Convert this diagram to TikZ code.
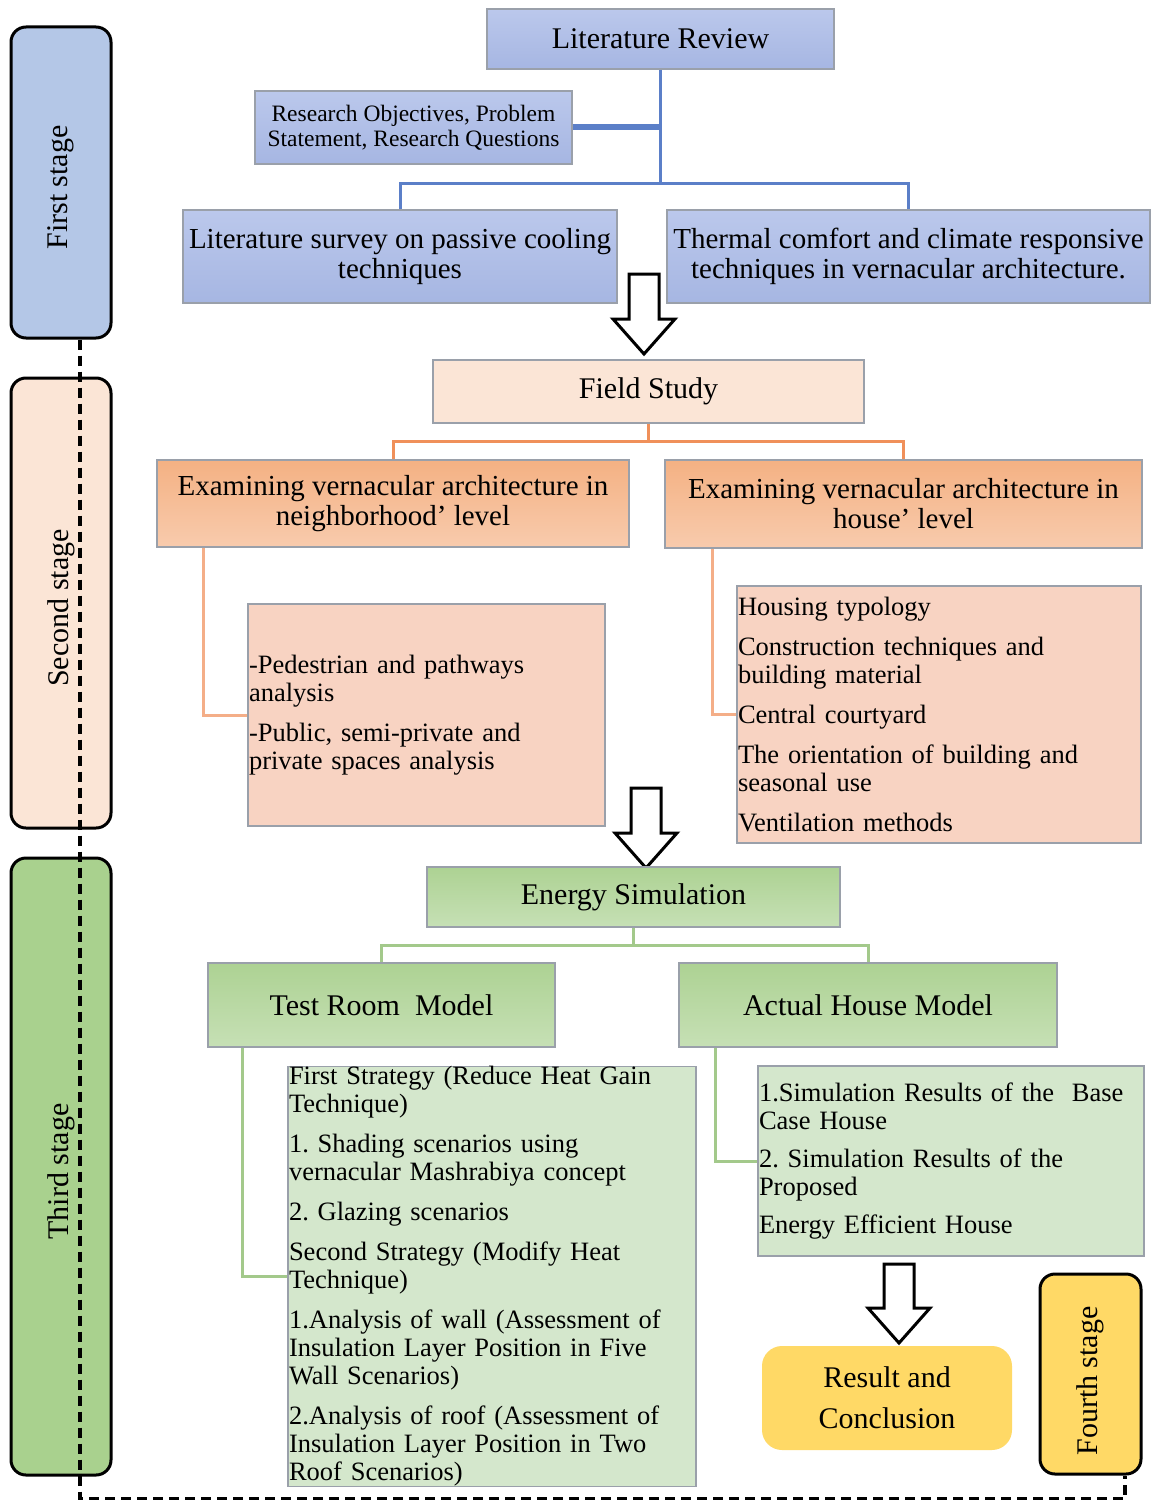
\documentclass[tikz,border=0pt]{standalone}
\usepackage{fontspec}
\setmainfont{Liberation Serif}
\usepackage{tikz}
\usetikzlibrary{%
  calc
}

\definecolor{blueTop}{HTML}{BBC8EC}
\definecolor{blueBot}{HTML}{A6B6E2}
\definecolor{stageBlue}{HTML}{B4C7E7}
\definecolor{peach}{HTML}{FBE5D6}
\definecolor{salmonTop}{HTML}{F4B183}
\definecolor{salmonBot}{HTML}{F8CBAD}
\definecolor{salmonLight}{HTML}{F8D3C2}
\definecolor{greenTop}{HTML}{ADD293}
\definecolor{greenBot}{HTML}{C6E0B5}
\definecolor{greenLight}{HTML}{D4E7CC}
\definecolor{stageGreen}{HTML}{A9D18E}
\definecolor{gold}{HTML}{FFD966}
\definecolor{lineBlue}{HTML}{5B7FC8}
\definecolor{lineOrange}{HTML}{F0905A}
\definecolor{lineSalmon}{HTML}{F4AE88}
\definecolor{lineGreen}{HTML}{A3C98B}
\definecolor{edgeGray}{HTML}{9AA0AA}

\newcommand{\headfont}{\fontsize{30}{30}\selectfont}
\newcommand{\twofont}{\fontsize{29}{30}\selectfont}
\newcommand{\smallfont}{\fontsize{23.5}{25}\selectfont}
\newcommand{\listfont}{\fontsize{26.5}{28}\selectfont}

% hollow block arrow: x, top y, tip y
\newcommand{\hollowarrow}[3]{%
  \draw[line width=3pt, fill=white, line join=miter]
    (#1-15,#2) -- (#1+15,#2) -- (#1+15,#3-35) -- (#1+31,#3-35)
    -- (#1,#3) -- (#1-31,#3-35) -- (#1-15,#3-35) -- cycle;}

\begin{document}
\begin{tikzpicture}[x=1pt, y=-1pt,
    box/.style={draw=edgeGray, line width=1.5pt, inner sep=0pt, align=center},
    bluebox/.style={box, top color=blueTop, bottom color=blueBot},
    salmonbox/.style={box, top color=salmonTop, bottom color=salmonBot},
    greenbox/.style={box, top color=greenTop, bottom color=greenBot},
    listbox/.style={box, align=left, inner xsep=1pt, font=\listfont},
    stagebox/.style={draw=black, line width=3pt, rounded corners=15pt, minimum width=100},
    stagetext/.style={rotate=90, font=\headfont},
    blueline/.style={lineBlue, line width=3pt},
    orangeline/.style={lineOrange, line width=3pt},
    salmonline/.style={lineSalmon, line width=3pt},
    greenline/.style={lineGreen, line width=3pt},
    dashline/.style={black, line width=3.5pt, dash pattern=on 10pt off 6pt}
  ]
    \fill[white] (0,0) rectangle (1152,1501);
    \useasboundingbox (0,0) rectangle (1152,1501);

    % stages
    \node[stagebox, fill=stageBlue, minimum height=311] (first) at (61,182.5) {};
    \node[stagebox, fill=peach, minimum height=450] (second) at (61,603) {};
    \node[stagebox, fill=stageGreen, minimum height=617] (third) at (61,1166.5) {};
    \node[stagebox, fill=gold, minimum width=101, minimum height=200] (fourth) at (1090.5,1374) {};

    \draw[dashline] ([xshift=19pt]first.south) -- ++(0,1159) -| ([xshift=34.5pt]fourth.south);

    \node[stagetext, xshift=-5pt] at (first) {First stage};
    \node[stagetext, xshift=-5pt] at (second) {Second stage};
    \node[stagetext, xshift=-5pt] at (third) {Third stage};
    \node[stagetext, xshift=-7pt] at (fourth) {Fourth stage};

    % first stage
    \node[bluebox, minimum width=347, minimum height=60, font=\headfont] (litrev) at (660.5,39) {Literature Review};
    \node[bluebox, minimum width=317, minimum height=73, font=\smallfont] (obj) at (413.5,127.5)
        {Research Objectives, Problem\\Statement, Research Questions};
    \node[bluebox, minimum width=434, minimum height=93, font=\twofont] (survey) at (400,256.5)
        {Literature survey on passive cooling\\techniques};
    \node[bluebox, minimum width=483, minimum height=93, font=\twofont] (thermal) at (908.5,256.5)
        {Thermal comfort and climate responsive\\techniques in vernacular architecture.};

    \draw[blueline] (litrev.south) -- (litrev.south |- 0,183) coordinate (bus1);
    \draw[blueline] (survey.north) |- (bus1) -| (thermal.north);
    \draw[lineBlue, line width=6pt] (obj.east) -- (obj.east -| litrev.south);

    \hollowarrow{644}{274}{354}

    % second stage
    \node[box, fill=peach, minimum width=431, minimum height=63, font=\headfont] (field) at (648.5,391.5) {Field Study};
    \node[salmonbox, minimum width=472, minimum height=87, font=\twofont] (nbh) at (393,503.5)
        {Examining vernacular architecture in\\neighborhood’ level};
    \node[salmonbox, minimum width=477, minimum height=88, font=\twofont] (house) at (903.5,504)
        {Examining vernacular architecture in\\house’ level};
    \node[listbox, fill=salmonLight, minimum width=357, minimum height=222, text width=355] (nbhsub) at (426.5,715)
        {-Pedestrian and pathways\\analysis\\[12pt]-Public, semi-private and\\private spaces analysis};
    \node[listbox, fill=salmonLight, minimum width=404, minimum height=257, text width=402] (housesub) at (939,714.5)
        {Housing typology\\[12pt]Construction techniques and\\building material\\[12pt]Central courtyard\\[12pt]%
         The orientation of building and\\seasonal use\\[12pt]Ventilation methods};

    \draw[orangeline] (field.south) -- (field.south |- 0,441) coordinate (bus2);
    \draw[orangeline] (nbh.north) |- (bus2) -| (house.north);
    \draw[salmonline] ([xshift=47pt]nbh.south west) |- (nbhsub.west);
    \draw[salmonline] ([xshift=48pt]house.south west) |- (housesub.west);

    \hollowarrow{646}{788}{868}

    % third stage
    \node[greenbox, minimum width=413, minimum height=60, font=\headfont] (energy) at (633.5,897) {Energy Simulation};
    \node[greenbox, minimum width=347, minimum height=84, font=\headfont] (testroom) at (381.5,1005) {Test Room\ \ Model};
    \node[greenbox, minimum width=378, minimum height=84, font=\headfont] (actual) at (868,1005) {Actual House Model};
    \node[listbox, fill=greenLight, minimum width=408, minimum height=417, text width=406] (testsub) at (492,1276.5)
        {First Strategy (Reduce Heat Gain\\Technique)\\[12pt]1.\ Shading scenarios using\\vernacular Mashrabiya concept\\[12pt]%
         2.\ Glazing scenarios\\[12pt]Second Strategy (Modify Heat\\Technique)\\[12pt]%
         1.Analysis of wall (Assessment of\\Insulation Layer Position in Five\\Wall Scenarios)\\[12pt]%
         2.Analysis of roof (Assessment of\\Insulation Layer Position in Two\\Roof Scenarios)};
    \node[listbox, fill=greenLight, minimum width=386, minimum height=190, text width=384] (actualsub) at (951,1161)
        {1.Simulation Results of the\ \ Base\\Case House\\[10pt]2.\ Simulation Results of the\\Proposed\\[10pt]Energy Efficient House};

    \draw[greenline] (energy.south) -- (energy.south |- 0,945) coordinate (bus3);
    \draw[greenline] (testroom.north) |- (bus3) -| (actual.north);
    \draw[greenline] ([xshift=35pt]testroom.south west) |- (testsub.west);
    \draw[greenline] ([xshift=37pt]actual.south west) |- (actualsub.west);

    \hollowarrow{899}{1264}{1343}

    % fourth stage
    \node[fill=gold, rounded corners=20pt, minimum width=250, minimum height=104, align=center,
        font=\fontsize{30}{41}\selectfont] (result) at (887,1398) {Result and\\Conclusion};

\end{tikzpicture}
\end{document}
